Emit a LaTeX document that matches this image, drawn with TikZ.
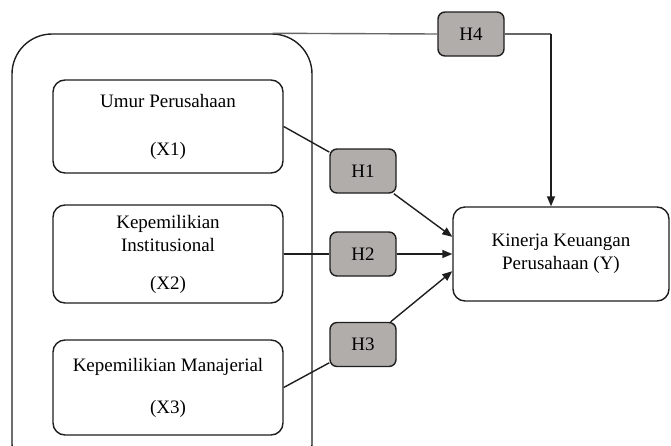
\documentclass[tikz,border=0pt]{standalone}
\usepackage{fontspec}
\setmainfont{Liberation Serif}
\usetikzlibrary{arrows.meta,positioning}
\definecolor{hypfill}{RGB}{177,173,171}
\definecolor{boxline}{RGB}{30,30,30}
\tikzset{
  varbox/.style={rectangle, rounded corners=12pt, draw=boxline, line width=1.4pt, fill=white,
                 minimum width=230pt, align=center, font=\fontsize{19}{23}\selectfont},
  hypbox/.style={rectangle, rounded corners=7pt, draw=boxline, line width=1.4pt, fill=hypfill,
                 minimum width=66pt, minimum height=44pt, font=\fontsize{19}{20}\selectfont},
  arrow/.style={-{Triangle[length=10pt,width=8pt]}, line width=1.4pt, boxline},
}

\begin{document}
\begin{tikzpicture}[
        x=1pt, y=-1pt,
        groupbox/.style={rectangle, rounded corners=40pt, draw=boxline, line width=1.4pt,
                         minimum width=300pt, minimum height=450pt},
        link/.style={line width=1.4pt, boxline},
        topline/.style={line width=1.4pt, black!60}
    ]
    \useasboundingbox (0,0) rectangle (671,445);
    \clip (0,0) rectangle (671,445);

    % Independent variables
    \node[groupbox] (grp) at (162,259) {};
    \node[varbox, minimum height=93pt] (x1) at (168,126.5) {Umur Perusahaan\\[25pt](X1)};
    \node[varbox, minimum height=98pt] (x2) at (168,254) {Kepemilikian\\Institusional\\[15pt](X2)};
    \node[varbox, minimum height=95pt] (x3) at (168,387.5) {Kepemilikian Manajerial\\[19pt](X3)};

    % Dependent variable
    \node[varbox, minimum width=216pt, minimum height=94pt] (kin) at (561,254) {Kinerja Keuangan\\Perusahaan (Y)};

    % Hypotheses
    \node[hypbox] (h1) at (363,171) {H1};
    \node[hypbox] (h2) at (363,254) {H2};
    \node[hypbox] (h3) at (363,344.5) {H3};
    \node[hypbox] (h4) at (471,34) {H4};

    % Connections
    \draw[link] (x1.east) -- (h1);
    \draw[link] (x2.east) -- (h2.west);
    \draw[link] (x3.east) -- (h3);
    \draw[arrow] (h1) -- (kin.171);
    \draw[arrow] (h2.east) -- (kin.west);
    \draw[arrow] (h3) -- (kin.189);

    % Simultaneous path
    \coordinate (bend) at (551,34);
    \draw[topline] ([xshift=-40pt]grp.north east) -- (h4.west);
    \draw[topline] (h4.east) -- (bend);
    \draw[arrow] (bend) -- (bend |- kin.north);

\end{tikzpicture}
\end{document}
